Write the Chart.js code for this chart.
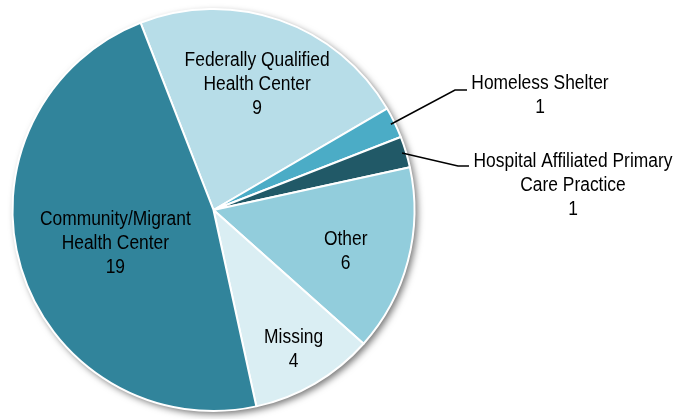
<!DOCTYPE html>
<html>
<head>
<meta charset="utf-8">
<script src="https://cdn.jsdelivr.net/npm/chart.js@4/dist/chart.umd.min.js"></script>
<style>
html,body{margin:0;padding:0;background:#fff;}
#wrap{position:relative;width:676px;height:419px;}
</style>
</head>
<body>
<div id="wrap"><canvas id="c" width="676" height="419"></canvas></div>
<script>
const categories = ["Federally Qualified Health Center", "Homeless Shelter", "Hospital Affiliated Primary Care Practice", "Other", "Missing", "Community/Migrant Health Center"];
const labelLines = [["Federally Qualified", "Health Center"], ["Homeless Shelter"], ["Hospital Affiliated Primary", "Care Practice"], ["Other"], ["Missing"], ["Community/Migrant", "Health Center"]];
const values = [9, 1, 1, 6, 4, 19];
const colors = ["#B7DDE8", "#4BACC6", "#215967", "#92CDDC", "#DAEEF3", "#31849B"];

const FONT = '20px "Liberation Sans Narrow", "Arial Narrow", "Liberation Sans", Arial, sans-serif';
const XSCALE = 0.87;

const shadowPlugin = {
  id: 'shadow',
  beforeDatasetsDraw(chart) {
    const arc = chart.getDatasetMeta(0).data[0];
    if (!arc) return;
    const ctx = chart.ctx;
    ctx.save();
    ctx.shadowColor = 'rgba(0,0,0,0.55)';
    ctx.shadowBlur = 7;
    ctx.shadowOffsetX = 3;
    ctx.shadowOffsetY = 3;
    ctx.fillStyle = '#fff';
    ctx.beginPath();
    ctx.arc(arc.x, arc.y, arc.outerRadius, 0, Math.PI * 2);
    ctx.fill();
    ctx.restore();
  }
};

const inside = {0: {f: 0.66, dy: 0}, 3: {f: 0.68, dy: 7}, 4: {f: 0.79, dy: 2}, 5: {f: 0.51, dy: 4}};
const outside = {
  1: {elbow: [455, 90], end: [467, 90], text: [540, 82]},
  2: {elbow: [458, 166], end: [469, 166], text: [573, 160]}
};
const LH = 24;

function drawText(ctx, t, x, y) {
  ctx.save();
  ctx.translate(x, y);
  ctx.scale(XSCALE, 1);
  ctx.fillText(t, 0, 0);
  ctx.restore();
}

const labelPlugin = {
  id: 'labels',
  afterDatasetsDraw(chart) {
    const ctx = chart.ctx;
    const meta = chart.getDatasetMeta(0);
    ctx.save();
    ctx.font = FONT;
    ctx.fillStyle = '#000';
    ctx.textAlign = 'center';
    ctx.textBaseline = 'middle';
    meta.data.forEach((arc, i) => {
      const mid = (arc.startAngle + arc.endAngle) / 2;
      const lines = labelLines[i].concat([String(values[i])]);
      if (inside[i] !== undefined) {
        const r = arc.outerRadius * inside[i].f;
        const cx = arc.x + Math.cos(mid) * r;
        const cy = arc.y + Math.sin(mid) * r + inside[i].dy;
        const y0 = cy - (lines.length - 1) * LH / 2;
        lines.forEach((t, k) => drawText(ctx, t, cx, y0 + k * LH));
      } else {
        const o = outside[i];
        const sx = arc.x + Math.cos(mid) * arc.outerRadius * 0.98;
        const sy = arc.y + Math.sin(mid) * arc.outerRadius * 0.98;
        ctx.strokeStyle = '#000';
        ctx.lineWidth = 1.5;
        ctx.beginPath();
        ctx.moveTo(sx, sy);
        ctx.lineTo(o.elbow[0], o.elbow[1]);
        ctx.lineTo(o.end[0], o.end[1]);
        ctx.stroke();
        lines.forEach((t, k) => drawText(ctx, t, o.text[0], o.text[1] + 1 + k * LH));
      }
    });
    ctx.restore();
  }
};

new Chart(document.getElementById('c'), {
  type: 'pie',
  data: {
    labels: categories,
    datasets: [{
      data: values,
      backgroundColor: colors,
      borderColor: '#ffffff',
      borderWidth: 2
    }]
  },
  options: {
    responsive: false,
    animation: false,
    rotation: -21.3,
    layout: {padding: {left: 11, right: 260, top: 8, bottom: 7}},
    plugins: {legend: {display: false}, tooltip: {enabled: false}}
  },
  plugins: [shadowPlugin, labelPlugin]
});
</script>
</body>
</html>
